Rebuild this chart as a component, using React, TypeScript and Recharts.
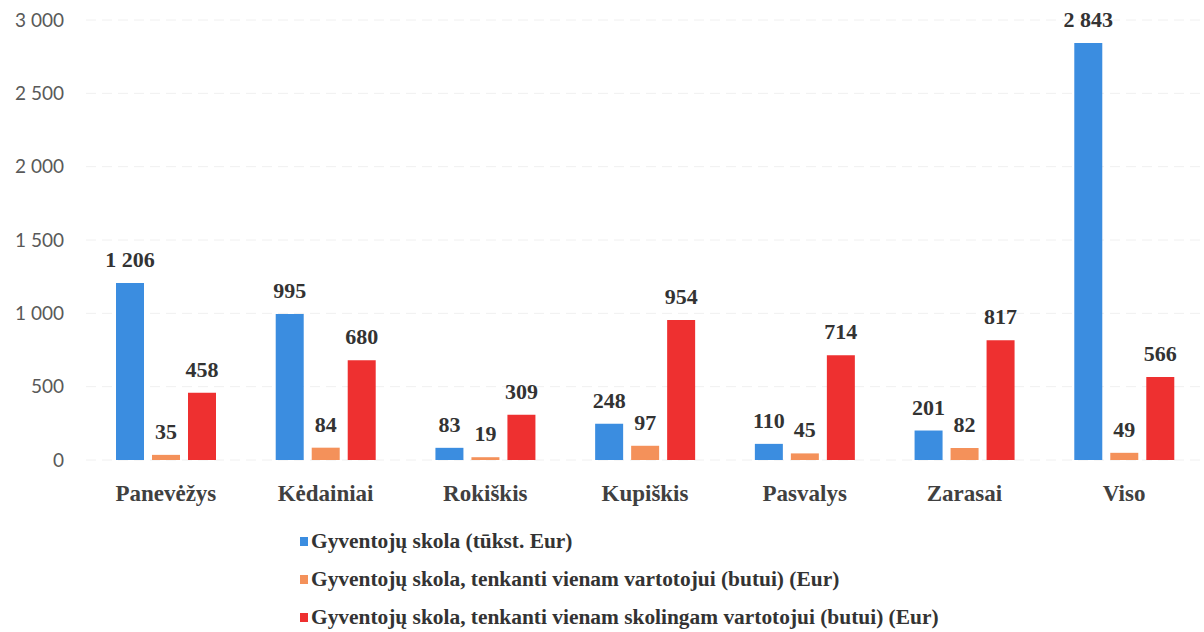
import { BarChart, Bar, XAxis, YAxis, CartesianGrid, Legend, LabelList } from 'recharts'

const categories = ['Panevėžys', 'Kėdainiai', 'Rokiškis', 'Kupiškis', 'Pasvalys', 'Zarasai', 'Viso']
const debtTotal = [1206, 995, 83, 248, 110, 201, 2843]
const debtPerConsumer = [35, 84, 19, 97, 45, 82, 49]
const debtPerDebtor = [458, 680, 309, 954, 714, 817, 566]
const yTicks = [0, 500, 1000, 1500, 2000, 2500, 3000]

const seriesNames = [
    'Gyventojų skola (tūkst. Eur)',
    'Gyventojų skola, tenkanti vienam vartotojui (butui) (Eur)',
    'Gyventojų skola, tenkanti vienam skolingam vartotojui (butui) (Eur)',
]
const colors = ['#3b8de0', '#f4915a', '#ee3030']

const data = categories.map((name, i) => ({
    name,
    total: debtTotal[i],
    perConsumer: debtPerConsumer[i],
    perDebtor: debtPerDebtor[i],
}))

const fmt = (v: any) => String(v).replace(/\B(?=(\d{3})+(?!\d))/g, ' ')

const serif = '"Liberation Serif", "Times New Roman", serif'

// plain <text> so "1 206" does not wrap
const BarLabel = (props: any) => {
    const { x, y, width, value } = props
    return (
        <text x={x + width / 2} y={y - 16} textAnchor="middle"
            fontFamily={serif} fontWeight={700} fontSize={22} fill="#333">
            {fmt(value)}
        </text>
    )
}

function LegendBox() {
    return (
        <div style={{ fontFamily: serif, fontWeight: 700, fontSize: 21.4, color: '#333' }}>
            {seriesNames.map((n, i) => (
                <div key={n} style={{ display: 'flex', alignItems: 'center', height: 38, whiteSpace: 'nowrap' }}>
                    <span style={{ display: 'inline-block', width: 8, height: 9, background: colors[i], marginRight: 3 }} />
                    {n}
                </div>
            ))}
        </div>
    )
}

export default function App() {
    return (
        <div style={{ position: 'absolute', left: 0, top: 0, background: '#fff' }}>
            <BarChart width={1204} height={632} data={data}
                margin={{ top: 20, right: 0, left: 0, bottom: 142 }}
                barSize={28} barGap={8}
            >
                <CartesianGrid vertical={false} stroke="#f0f0f0" strokeDasharray="10 6" />
                <XAxis
                    dataKey="name"
                    axisLine={false}
                    tickLine={false}
                    tickSize={0}
                    tickMargin={25}
                    height={30}
                    interval={0}
                    tick={{ fill: '#404040', fontFamily: serif, fontWeight: 700, fontSize: 23 }}
                />
                <YAxis
                    width={86}
                    domain={[0, 3000]}
                    ticks={yTicks}
                    axisLine={false}
                    tickLine={false}
                    tickSize={0}
                    tickMargin={22}
                    tickFormatter={fmt}
                    tick={{ fill: '#595959', fontFamily: 'Lato, sans-serif', fontSize: 19 }}
                />
                <Legend
                    layout="vertical"
                    align="center"
                    verticalAlign="middle"
                    wrapperStyle={{ top: 522, left: 300, width: 'auto' }}
                    content={() => <LegendBox />}
                />
                <Bar dataKey="total" name={seriesNames[0]} fill={colors[0]} isAnimationActive={false}>
                    <LabelList dataKey="total" content={BarLabel} />
                </Bar>
                <Bar dataKey="perConsumer" name={seriesNames[1]} fill={colors[1]} isAnimationActive={false}>
                    <LabelList dataKey="perConsumer" content={BarLabel} />
                </Bar>
                <Bar dataKey="perDebtor" name={seriesNames[2]} fill={colors[2]} isAnimationActive={false}>
                    <LabelList dataKey="perDebtor" content={BarLabel} />
                </Bar>
            </BarChart>
        </div>
    )
}
